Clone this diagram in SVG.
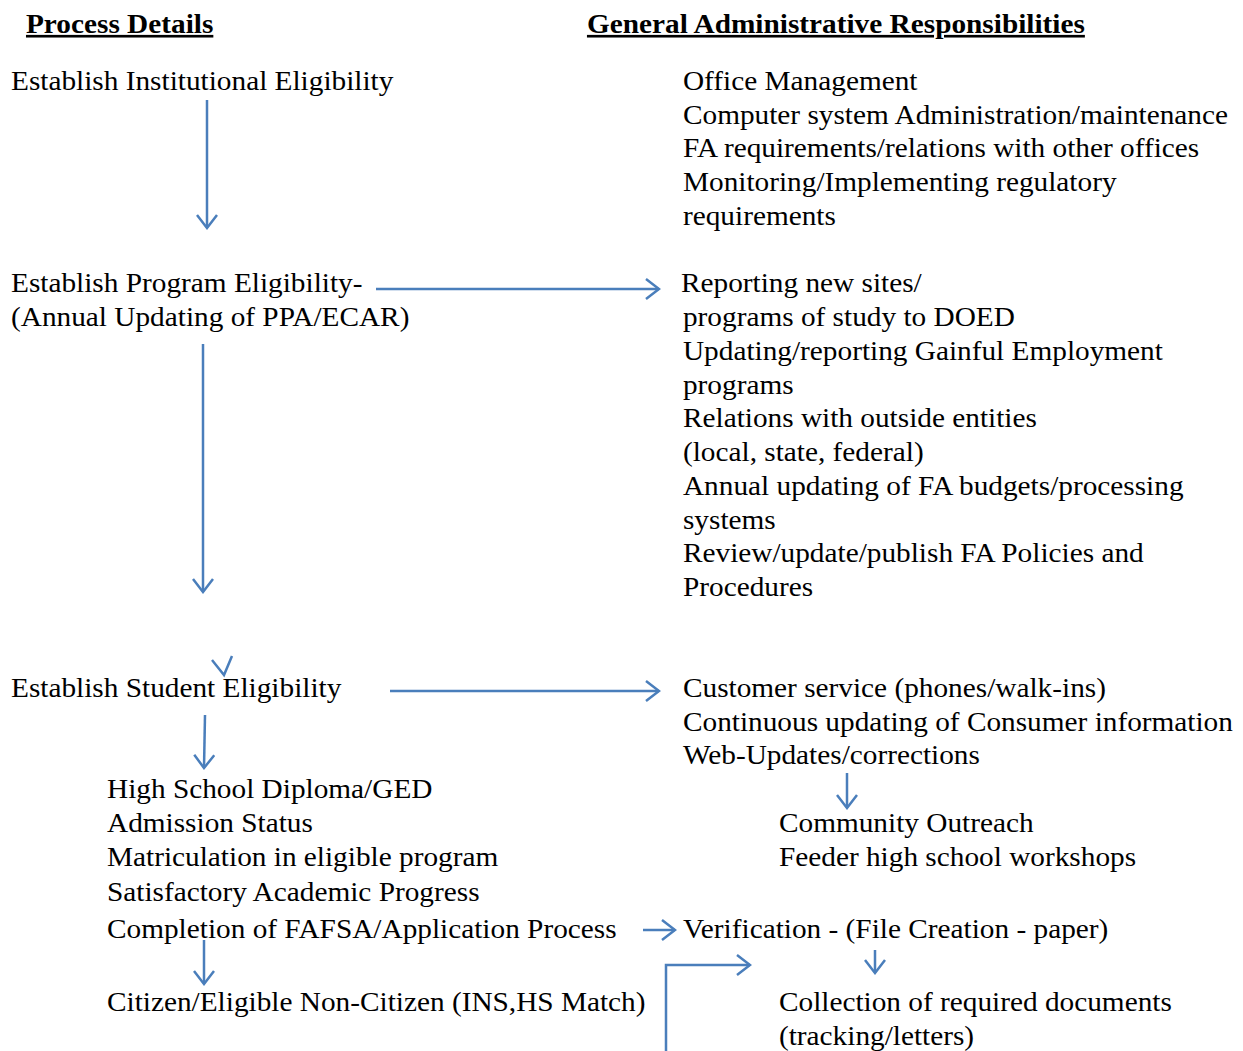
<svg xmlns="http://www.w3.org/2000/svg" width="1243" height="1051" viewBox="0 0 1243 1051">
<defs>
<style>
text{font-family:"Liberation Serif","Times New Roman",serif;font-size:26.5px;fill:#000}
.h{font-weight:bold;text-decoration:underline}
.c{fill:none;stroke:#4A7EBB;stroke-width:2.5}
</style>
<marker id="ah" viewBox="0 0 16 22" refX="14" refY="11" markerWidth="16" markerHeight="22" markerUnits="userSpaceOnUse" orient="auto">
<polyline points="1,1 14,11 1,21" fill="none" stroke="#4A7EBB" stroke-width="2.5"/>
</marker>
</defs>
<rect width="1243" height="1051" fill="#fff"/>
<g transform="scale(1.106,1)">
<g id="headers">
<text class="h" x="23.5" y="33">Process Details</text>
<text class="h" x="530.7" y="33">General Administrative Responsibilities</text>
</g>
<g id="n-institutional"><text x="9.95" y="90">Establish Institutional Eligibility</text></g>
<g id="n-office">
<text x="617.5" y="90">Office Management</text>
<text x="617.5" y="124">Computer system Administration/maintenance</text>
<text x="617.5" y="157">FA requirements/relations with other offices</text>
<text x="617.5" y="191">Monitoring/Implementing regulatory</text>
<text x="617.5" y="225">requirements</text>
</g>
<g id="n-program">
<text x="9.95" y="292">Establish Program Eligibility-</text>
<text x="9.95" y="326">(Annual Updating of PPA/ECAR)</text>
</g>
<g id="n-reporting">
<text x="615.7" y="292">Reporting new sites/</text>
<text x="617.5" y="326">programs of study to DOED</text>
<text x="617.5" y="360">Updating/reporting Gainful Employment</text>
<text x="617.5" y="394">programs</text>
<text x="617.5" y="427">Relations with outside entities</text>
<text x="617.5" y="461">(local, state, federal)</text>
<text x="617.5" y="495">Annual updating of FA budgets/processing</text>
<text x="617.5" y="529">systems</text>
<text x="617.5" y="562">Review/update/publish FA Policies and</text>
<text x="617.5" y="596">Procedures</text>
</g>
<g id="n-student"><text x="9.95" y="697">Establish Student Eligibility</text></g>
<g id="n-customer">
<text x="617.5" y="697">Customer service (phones/walk-ins)</text>
<text x="617.5" y="731">Continuous updating of Consumer information</text>
<text x="617.5" y="764">Web-Updates/corrections</text>
</g>
<g id="n-requirements">
<text x="96.75" y="798">High School Diploma/GED</text>
<text x="96.75" y="832">Admission Status</text>
<text x="96.75" y="866">Matriculation in eligible program</text>
<text x="96.75" y="901">Satisfactory Academic Progress</text>
<text x="96.75" y="938">Completion of FAFSA/Application Process</text>
</g>
<g id="n-outreach">
<text x="704.3" y="832">Community Outreach</text>
<text x="704.3" y="866">Feeder high school workshops</text>
</g>
<g id="n-verification"><text x="617.5" y="938">Verification - (File Creation - paper)</text></g>
<g id="n-citizen"><text x="96.75" y="1011">Citizen/Eligible Non-Citizen (INS,HS Match)</text></g>
<g id="n-collection">
<text x="704.3" y="1011">Collection of required documents</text>
<text x="704.3" y="1045">(tracking/letters)</text>
</g>
</g>
<g id="connectors">
<line class="c" x1="207" y1="100" x2="207" y2="228" marker-end="url(#ah)"/>
<line class="c" x1="376" y1="289" x2="659" y2="289" marker-end="url(#ah)"/>
<line class="c" x1="203" y1="344" x2="203" y2="592" marker-end="url(#ah)"/>
<polyline class="c" points="212,660 224,675 232,656"/>
<line class="c" x1="390" y1="691" x2="659" y2="691" marker-end="url(#ah)"/>
<line class="c" x1="205" y1="715" x2="204" y2="768" marker-end="url(#ah)"/>
<line class="c" x1="847" y1="773" x2="847" y2="808" marker-end="url(#ah)"/>
<line class="c" x1="643" y1="930" x2="675" y2="930" marker-end="url(#ah)"/>
<line class="c" x1="875" y1="950" x2="875" y2="973" marker-end="url(#ah)"/>
<line class="c" x1="204" y1="940" x2="204" y2="984" marker-end="url(#ah)"/>
<polyline class="c" points="666,1051 666,965 750,965" marker-end="url(#ah)"/>
</g>
</svg>
